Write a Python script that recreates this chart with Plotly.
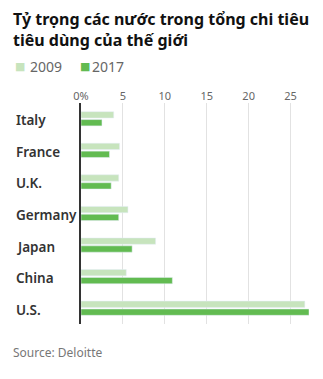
import plotly.graph_objects as go

countries = ["Italy", "France", "U.K.", "Germany", "Japan", "China", "U.S."]
share_2009 = [3.9, 4.6, 4.5, 5.6, 8.9, 5.4, 26.7]
share_2017 = [2.5, 3.4, 3.6, 4.5, 6.1, 10.9, 27.2]
tick_vals = [0, 5, 10, 15, 20, 25]
tick_text = ["0%", "5", "10", "15", "20", "25"]
series_names = ["2009", "2017"]

title_text = "Tỷ trọng các nước trong tổng chi tiêu<br>tiêu dùng của thế giới"
source_text = "Source: Deloitte"

c2009 = "#c7e4bd"
c2017 = "#62bb51"
colors = [c2009, c2017]

W, H = 323, 379
ml, mr, mt, mb = 81, 14, 103, 55
pw = W - ml - mr
ph = H - mt - mb

def px_x(p):
    return (p - ml) / pw

def px_y(p):
    return (H - mb - p) / ph

font = "Noto Sans"

fig = go.Figure()
fig.add_trace(go.Bar(y=countries, x=share_2009, orientation="h", name=series_names[0],
                     marker=dict(color=c2009), showlegend=False))
fig.add_trace(go.Bar(y=countries, x=share_2017, orientation="h", name=series_names[1],
                     marker=dict(color=c2017), showlegend=False))

annotations = []
# title
annotations.append(dict(x=px_x(11), xref="paper", y=px_y(6), yref="paper",
                        text=title_text, showarrow=False, xanchor="left", yanchor="top",
                        align="left",
                        font=dict(family=font, size=16, color="#111", weight="bold")))
# legend
leg_x = [(14, 29), (79, 91)]
for (sx, tx), name, col in zip(leg_x, series_names, colors):
    annotations.append(dict(x=px_x(sx - 1), xref="paper", y=px_y(66.5), yref="paper",
                            text="■", showarrow=False, xanchor="left", yanchor="middle",
                            font=dict(family="DejaVu Sans", size=11, color=col)))
    annotations.append(dict(x=px_x(tx - 1), xref="paper", y=px_y(66.5), yref="paper",
                            text=name, showarrow=False, xanchor="left", yanchor="middle",
                            font=dict(family=font, size=14, color="#666")))
# category labels
for c in countries:
    annotations.append(dict(x=px_x(14), xref="paper", y=c, yref="y", yshift=-1.5,
                            text=c, showarrow=False, xanchor="left",
                            font=dict(family=font, size=13.5, color="#333", weight=600)))
annotations.append(dict(x=px_x(11), xref="paper", y=px_y(352), yref="paper",
                        text=source_text, showarrow=False, xanchor="left", yanchor="middle",
                        font=dict(family=font, size=12, color="#777")))

fig.update_layout(
    width=W, height=H,
    margin=dict(l=ml, r=mr, t=mt, b=mb),
    paper_bgcolor="white", plot_bgcolor="white",
    barmode="group", bargap=0.5, bargroupgap=0.2,
    showlegend=False,
    xaxis=dict(range=[0, 27.2], side="top", tickvals=tick_vals, ticktext=tick_text,
               showgrid=True, gridcolor="#e2e2e2", gridwidth=1, zeroline=False,
               showline=False, ticks="", tickfont=dict(family=font, size=11, color="#666"),
               fixedrange=True),
    yaxis=dict(autorange="reversed", showticklabels=False, showgrid=False,
               showline=True, linecolor="#333", linewidth=1.5, ticks="", zeroline=False),
    annotations=annotations,
)

fig.write_html("out.html")
